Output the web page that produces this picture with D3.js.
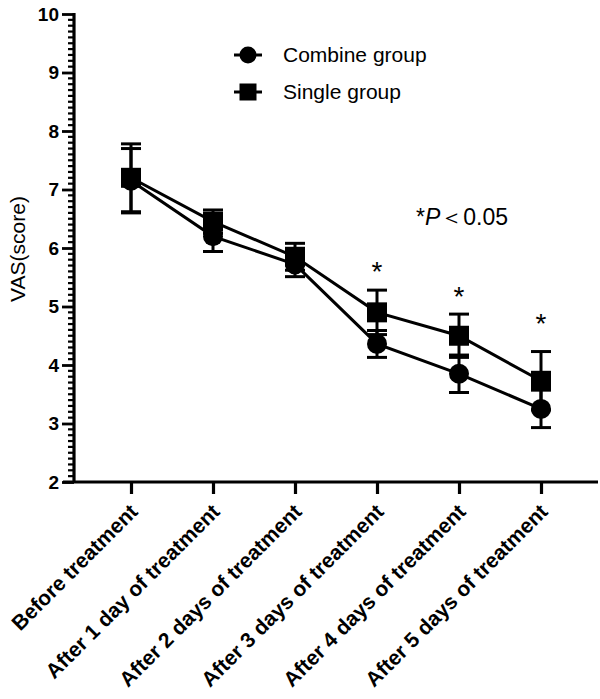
<!DOCTYPE html>
<html>
<head>
<meta charset="utf-8">
<script src="https://cdn.jsdelivr.net/npm/d3@7"></script>
<style>
  body { margin: 0; background: #fff; }
  svg { display: block; font-family: "Liberation Sans", Arial, sans-serif; }
</style>
</head>
<body>
<div id="chart"></div>
<script>
// data
const categories = [
  "Before treatment",
  "After 1 day of treatment",
  "After 2 days of treatment",
  "After 3 days of treatment",
  "After 4 days of treatment",
  "After 5 days of treatment"
];
const combineMean = [7.15, 6.2, 5.72, 4.36, 3.85, 3.25];
const combineSd   = [0.55, 0.26, 0.21, 0.23, 0.32, 0.32];
const singleMean  = [7.2, 6.45, 5.85, 4.9, 4.5, 3.73];
const singleSd    = [0.58, 0.2, 0.23, 0.38, 0.37, 0.5];
const starIndex   = [3, 4, 5];
const starLevel   = [5.52, 5.09, 4.63];
const yTicks      = [2, 3, 4, 5, 6, 7, 8, 9, 10];

const W = 600, H = 699;

const svg = d3.select("#chart").append("svg")
  .attr("width", W)
  .attr("height", H);

let x = d3.scalePoint()
  .domain(categories)
  .range([131, 541]);

let y = d3.scaleLinear()
  .domain([2, 10])
  .range([482, 14]);

const axisX = 74;
const axisY = 482;

// y axis: minor ticks every 0.1
let minor = d3.range(20, 101).map(d => d / 10).filter(d => Math.round(d * 10) % 10 !== 0);
svg.append("g")
  .selectAll("line")
  .data(minor)
  .enter()
  .append("line")
  .attr("x1", axisX - 6)
  .attr("x2", axisX)
  .attr("y1", d => y(d))
  .attr("y2", d => y(d))
  .attr("stroke", "#000")
  .attr("stroke-width", 2.2);

let yAxis = svg.append("g")
  .attr("transform", `translate(${axisX},0)`)
  .call(d3.axisLeft(y).tickValues(yTicks).tickSize(12).tickPadding(3).tickFormat(d3.format("d")));
yAxis.select(".domain").remove();
yAxis.selectAll(".tick line").attr("stroke-width", 2.8);
yAxis.selectAll(".tick text")
  .attr("font-size", 19)
  .attr("font-weight", "bold")
  .attr("font-family", "Liberation Sans, Arial, sans-serif")
  .attr("fill", "#000");

svg.append("line")
  .attr("x1", axisX).attr("x2", axisX)
  .attr("y1", y(10) - 1).attr("y2", axisY)
  .attr("stroke", "#000").attr("stroke-width", 3.2);

// x axis
let xAxis = svg.append("g")
  .attr("transform", `translate(0,${axisY})`)
  .call(d3.axisBottom(x).tickSize(12).tickFormat(""));
xAxis.select(".domain").remove();
xAxis.selectAll(".tick line").attr("stroke-width", 3.2);

svg.append("line")
  .attr("x1", 63).attr("x2", 598)
  .attr("y1", axisY).attr("y2", axisY)
  .attr("stroke", "#000").attr("stroke-width", 3.2);

svg.append("g")
  .selectAll("text")
  .data(categories)
  .enter()
  .append("text")
  .attr("transform", d => `translate(${x(d) + 8},${axisY + 31}) rotate(-45)`)
  .attr("text-anchor", "end")
  .attr("font-size", 21)
  .attr("font-weight", "bold")
  .text(d => d);

// y label
svg.append("text")
  .attr("transform", `translate(25,249) rotate(-90)`)
  .attr("text-anchor", "middle")
  .attr("font-size", 21)
  .text("VAS(score)");

// series
let series = [
  { name: "Combine group", mean: combineMean, sd: combineSd, shape: "circle" },
  { name: "Single group", mean: singleMean, sd: singleSd, shape: "square" }
];

let line = d3.line()
  .x((d, i) => x(categories[i]))
  .y(d => y(d));

series.forEach(s => {
  svg.append("path")
    .datum(s.mean)
    .attr("d", line)
    .attr("fill", "none")
    .attr("stroke", "#000")
    .attr("stroke-width", 3);
});

series.forEach(s => {
  let g = svg.append("g");
  let pts = s.mean.map((m, i) => ({ c: categories[i], m: m, sd: s.sd[i] }));
  pts.forEach(p => {
    let cx = x(p.c);
    g.append("line")
      .attr("x1", cx).attr("x2", cx)
      .attr("y1", y(p.m - p.sd)).attr("y2", y(p.m + p.sd))
      .attr("stroke", "#000").attr("stroke-width", 3);
    [p.m - p.sd, p.m + p.sd].forEach(v => {
      g.append("line")
        .attr("x1", cx - 10).attr("x2", cx + 10)
        .attr("y1", y(v)).attr("y2", y(v))
        .attr("stroke", "#000").attr("stroke-width", 3);
    });
  });
});

function drawMarker(g, shape, cx, cy, size) {
  if (shape === "circle") {
    g.append("circle").attr("cx", cx).attr("cy", cy).attr("r", size / 2).attr("fill", "#000");
  } else {
    g.append("rect").attr("x", cx - size / 2).attr("y", cy - size / 2)
      .attr("width", size).attr("height", size).attr("fill", "#000");
  }
}

series.forEach(s => {
  let g = svg.append("g");
  s.mean.forEach((m, i) => drawMarker(g, s.shape, x(categories[i]), y(m), 20));
});

// significance stars
svg.append("g")
  .selectAll("text")
  .data(starIndex)
  .enter()
  .append("text")
  .attr("x", (d, i) => x(categories[d]))
  .attr("y", (d, i) => y(starLevel[i]) + 5)
  .attr("text-anchor", "middle")
  .attr("font-size", 28)
  .text("*");

let note = svg.append("text")
  .attr("x", 416)
  .attr("y", 225)
  .attr("font-size", 23);
note.append("tspan").text("*");
note.append("tspan").attr("font-style", "italic").text("P");
note.append("tspan").text("＜0.05");

// legend
let legend = svg.append("g");
series.forEach((s, i) => {
  let ly = 55 + i * 37;
  legend.append("line")
    .attr("x1", 234).attr("x2", 262)
    .attr("y1", ly).attr("y2", ly)
    .attr("stroke", "#000").attr("stroke-width", 3);
  drawMarker(legend, s.shape, 248, ly, 17);
  legend.append("text")
    .attr("x", 283)
    .attr("y", ly + 7)
    .attr("font-size", 21)
    .text(s.name);
});
</script>
</body>
</html>
